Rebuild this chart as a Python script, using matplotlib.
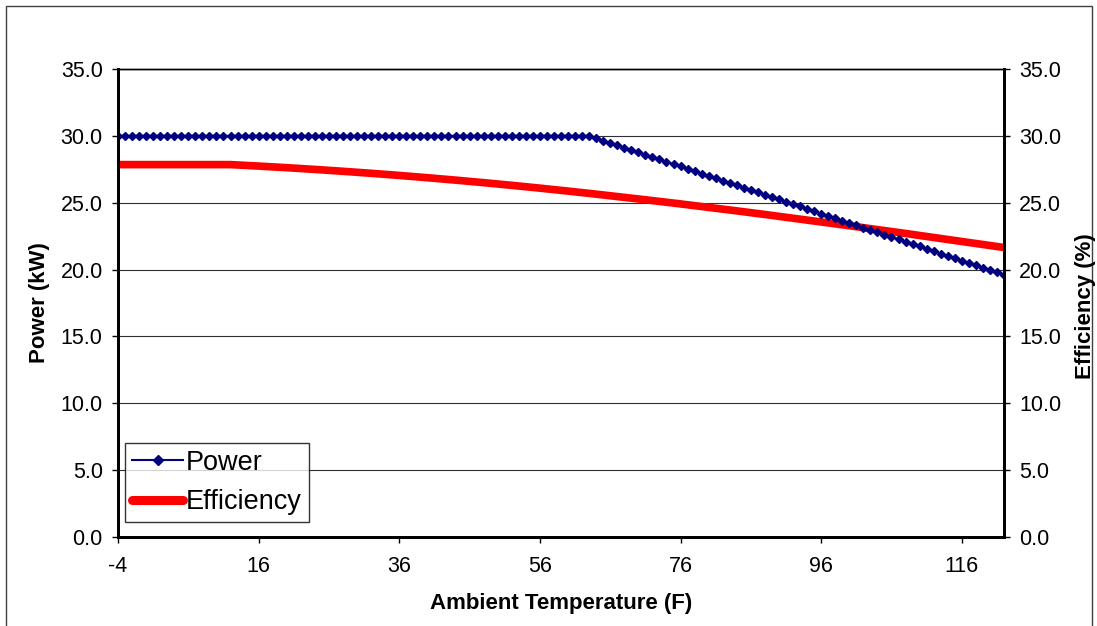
import matplotlib
matplotlib.use('Agg')
import matplotlib.pyplot as plt
from matplotlib.patches import Rectangle

plt.rcParams['font.family'] = ['Liberation Sans', 'DejaVu Sans']

# -----------------------------
# Data
# -----------------------------
temp = list(range(-4, 123))  # one point per degree F, -4 .. 122

power = [
    30.00, 30.00, 30.00, 30.00, 30.00, 30.00, 30.00, 30.00, 30.00, 30.00,  # -4 .. 5
    30.00, 30.00, 30.00, 30.00, 30.00, 30.00, 30.00, 30.00, 30.00, 30.00,  # 6 .. 15
    30.00, 30.00, 30.00, 30.00, 30.00, 30.00, 30.00, 30.00, 30.00, 30.00,  # 16 .. 25
    30.00, 30.00, 30.00, 30.00, 30.00, 30.00, 30.00, 30.00, 30.00, 30.00,  # 26 .. 35
    30.00, 30.00, 30.00, 30.00, 30.00, 30.00, 30.00, 30.00, 30.00, 30.00,  # 36 .. 45
    30.00, 30.00, 30.00, 30.00, 30.00, 30.00, 30.00, 30.00, 30.00, 30.00,  # 46 .. 55
    30.00, 30.00, 30.00, 30.00, 30.00, 30.00, 30.00, 30.00,                # 56 .. 63
    29.82, 29.65, 29.47, 29.30, 29.12, 28.94, 28.77, 28.59, 28.42, 28.24,  # 64 .. 73
    28.06, 27.89, 27.71, 27.54, 27.36, 27.18, 27.01, 26.83, 26.66, 26.48,  # 74 .. 83
    26.30, 26.13, 25.95, 25.78, 25.60, 25.42, 25.25, 25.07, 24.90, 24.72,  # 84 .. 93
    24.54, 24.37, 24.19, 24.02, 23.84, 23.66, 23.49, 23.31, 23.14, 22.96,  # 94 .. 103
    22.78, 22.61, 22.43, 22.26, 22.08, 21.90, 21.73, 21.55, 21.38, 21.20,  # 104 .. 113
    21.02, 20.85, 20.67, 20.50, 20.32, 20.14, 19.97, 19.79, 19.62,         # 114 .. 122
]

eff_temp = [-4, 0, 4, 8, 12, 16, 20, 24, 28, 32, 36, 40, 44, 48, 52, 56, 60,
            64, 68, 72, 76, 80, 84, 88, 92, 96, 100, 104, 108, 112, 116, 120, 122]
efficiency = [27.85, 27.85, 27.85, 27.85, 27.85, 27.74, 27.62, 27.49, 27.35,
              27.20, 27.04, 26.87, 26.69, 26.50, 26.30, 26.09, 25.87, 25.64,
              25.40, 25.16, 24.91, 24.65, 24.39, 24.12, 23.84, 23.56, 23.28,
              22.99, 22.70, 22.40, 22.10, 21.80, 21.65]

x_ticks = [-4, 16, 36, 56, 76, 96, 116]
y_ticks = [0, 5, 10, 15, 20, 25, 30, 35]

# -----------------------------
# Figure and axes
# -----------------------------
fig = plt.figure(figsize=(10.97, 6.26), dpi=100)
ax = fig.add_axes([118 / 1097, 89 / 626, 886 / 1097, 468 / 626])
ax2 = ax.twinx()

# outer chart border
fig.patches.append(Rectangle((6 / 1097, -0.05), 1086 / 1097, (620 / 626) + 0.05,
                             transform=fig.transFigure, fill=False,
                             edgecolor='#404040', linewidth=1.0))

ax.plot(temp, power, color='#000080', linewidth=1.5, marker='D',
        markersize=4.4, label='Power', zorder=3)
ax.plot(eff_temp, efficiency, color='#ff0000', linewidth=5.5,
        solid_capstyle='butt', label='Efficiency', zorder=2)

for a in (ax, ax2):
    a.set_ylim(0, 35)
    a.set_yticks(y_ticks)
    a.set_yticklabels([f'{v:.1f}' for v in y_ticks])
    for side in ('left', 'right', 'bottom'):
        a.spines[side].set_linewidth(2)
        a.spines[side].set_color('black')
    a.spines['top'].set_linewidth(1)

ax.set_xlim(-4, 122)
ax.set_xticks(x_ticks)
ax.set_xticklabels([str(v) for v in x_ticks])

ax.yaxis.grid(True, color='#303030', linewidth=0.8)
ax.set_axisbelow(True)

ax.tick_params(axis='y', direction='out', length=4, width=1, pad=7, labelsize=15.5)
ax.tick_params(axis='x', direction='out', length=4, width=1, pad=10, labelsize=15.5)
ax2.tick_params(axis='y', direction='out', length=4, width=1, pad=7, labelsize=15.5)

fig.text(561 / 1097, 1 - 604 / 626, 'Ambient Temperature (F)', ha='center',
         va='center', fontsize=16, fontweight='bold')
fig.text(40 / 1097, 1 - 303 / 626, 'Power (kW)', ha='center', va='center',
         rotation=90, fontsize=16, fontweight='bold')
fig.text(1085 / 1097, 1 - 306 / 626, 'Efficiency (%)', ha='center', va='center',
         rotation=90, fontsize=16, fontweight='bold')

leg = ax.legend(loc='lower left', bbox_to_anchor=(0.008, 0.032), fontsize=19.5,
                frameon=True, fancybox=False, borderpad=0.25, labelspacing=0.5,
                handlelength=1.9, handletextpad=0.1, borderaxespad=0)
leg.get_frame().set_edgecolor('black')
leg.get_frame().set_linewidth(1)
for h in leg.get_lines():
    if h.get_label() == 'Power':
        h.set_markersize(5)
    else:
        h.set_solid_capstyle('round')
        h.set_linewidth(6.5)

fig.savefig('out.png', dpi=100)
